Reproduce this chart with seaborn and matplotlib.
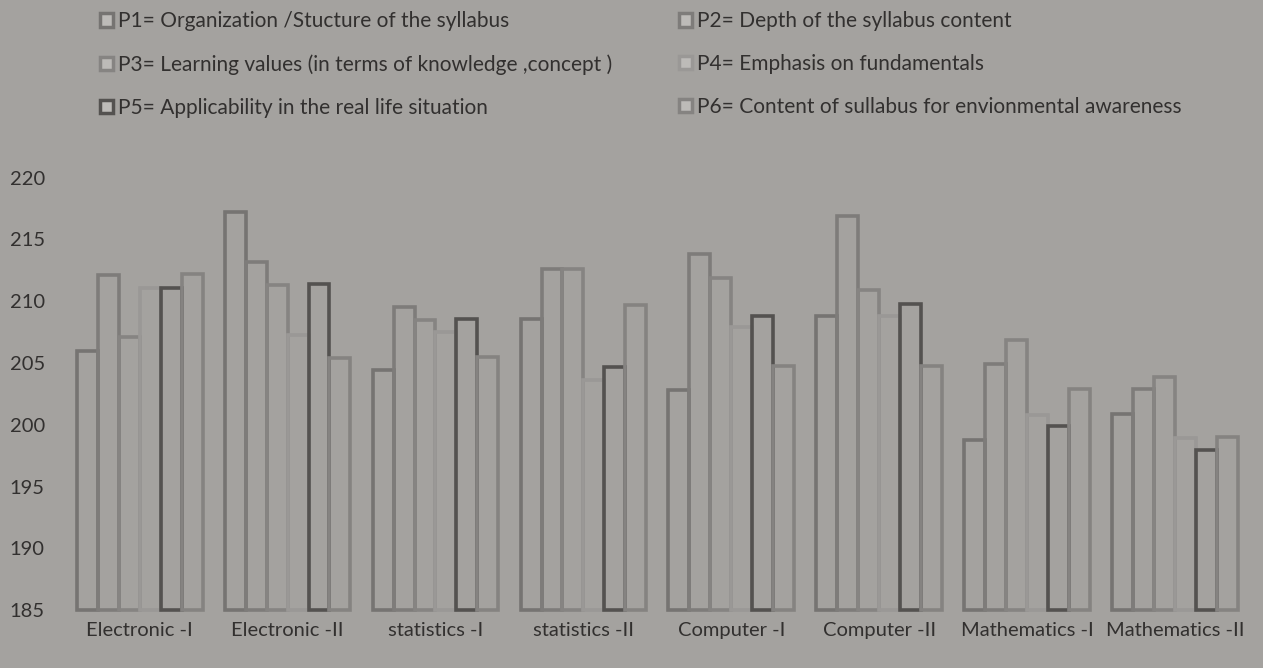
import matplotlib
matplotlib.use("Agg")
import matplotlib.pyplot as plt
from matplotlib.patches import Patch
import seaborn as sns
import pandas as pd

# values
courses = ["Electronic -I", "Electronic -II", "statistics -I", "statistics -II",
           "Computer -I", "Computer -II", "Mathematics -I", "Mathematics -II"]
params = ["P1= Organization /Stucture of the syllabus",
          "P2= Depth of the syllabus content",
          "P3= Learning values (in terms of knowledge ,concept )",
          "P4= Emphasis on fundamentals",
          "P5= Applicability in the real life situation",
          "P6= Content of sullabus for envionmental awareness"]
p1 = [206.0, 217.2, 204.4, 208.6, 202.8, 208.8, 198.8, 200.9]
p2 = [212.1, 213.2, 209.5, 212.6, 213.8, 216.9, 204.9, 202.9]
p3 = [207.1, 211.3, 208.5, 212.6, 211.9, 210.9, 206.9, 203.9]
p4 = [211.1, 207.3, 207.5, 203.6, 207.9, 208.8, 200.8, 198.9]
p5 = [211.1, 211.4, 208.6, 204.7, 208.8, 209.8, 199.9, 198.0]
p6 = [212.2, 205.4, 205.5, 209.7, 204.8, 204.8, 202.9, 199.0]
edge_colors = ["#767472", "#7e7c7a", "#868482", "#9a9896", "#545250", "#858381"]
bg = "#a4a29f"
base = 185

rows = []
for name, vals in zip(params, [p1, p2, p3, p4, p5, p6]):
    for c, v in zip(courses, vals):
        rows.append({"course": c, "param": name, "score": v - base})
df = pd.DataFrame(rows)

sns.set_style("white")
plt.rcParams["font.family"] = ["Lato", "DejaVu Sans"]
plt.rcParams["text.color"] = "#32302f"

fig = plt.figure(figsize=(12.63, 6.68), dpi=100, facecolor=bg)
ax = fig.add_axes([0.052, 0.081, 0.937, 0.653])
ax.set_facecolor(bg)

sns.barplot(data=df, x="course", y="score", hue="param", hue_order=params,
            order=courses, palette=edge_colors, fill=False, errorbar=None,
            width=0.85, gap=0, linewidth=2.6, bottom=base, legend=False, ax=ax)

ax.set_ylim(184.7, 220)
ax.set_yticks(range(185, 221, 5))
ax.set_xlabel("")
ax.set_ylabel("")
for s in ax.spines.values():
    s.set_visible(False)
ax.tick_params(axis="both", length=0, labelsize=14.5, colors="#32302f")
ax.tick_params(axis="y", pad=15)
ax.tick_params(axis="x", pad=6)

handles = [Patch(facecolor="#bdbbb8", edgecolor=c, linewidth=2.5, label=p)
           for p, c in zip(params, edge_colors)]
order = [0, 2, 4, 1, 3, 5]
fig.legend([handles[i] for i in order], [params[i] for i in order],
           loc="upper left", bbox_to_anchor=(0.068, 1.005), ncol=2,
           frameon=False, fontsize=15, handlelength=0.6, handleheight=0.6,
           handletextpad=0.25, labelspacing=1.1, columnspacing=3.2,
           borderaxespad=0.3)

fig.savefig("out.png", dpi=100, facecolor=bg)
